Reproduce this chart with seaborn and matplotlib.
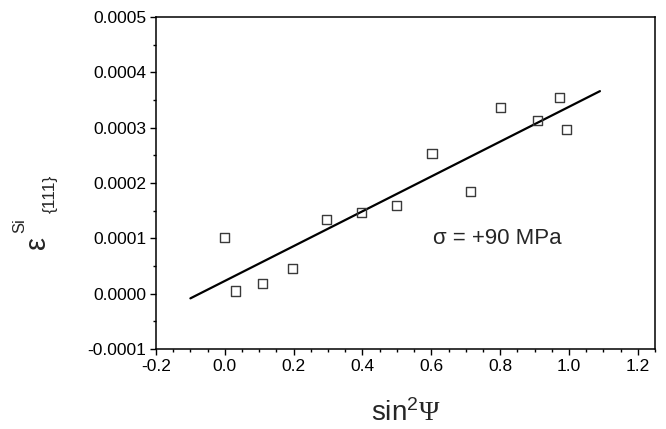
import numpy as np
import seaborn as sns
import matplotlib.pyplot as plt
from matplotlib.ticker import MultipleLocator, FormatStrFormatter

# datos
sin2psi = [0.0, 0.03, 0.109, 0.197, 0.295, 0.397, 0.500, 0.602, 0.714, 0.801, 0.908, 0.972, 0.992]
strain = [0.000101, 0.0000047, 0.000019, 0.000046, 0.000134, 0.000147, 0.000159,
          0.000254, 0.000185, 0.000337, 0.000313, 0.000354, 0.000296]

# recta de ajuste (extremos)
fit_x = [-0.10, 1.09]
fit_y = [-0.0000085, 0.000366]

x_ticks = [-0.2, 0.0, 0.2, 0.4, 0.6, 0.8, 1.0, 1.2]
y_ticks = [-0.0001, 0.0, 0.0001, 0.0002, 0.0003, 0.0004, 0.0005]

sns.set_style('ticks')
plt.rcParams['font.family'] = ['Liberation Sans', 'DejaVu Sans']
plt.rcParams['mathtext.fontset'] = 'custom'
plt.rcParams['mathtext.rm'] = 'Liberation Sans'
plt.rcParams['mathtext.it'] = 'Liberation Sans'
plt.rcParams['mathtext.sf'] = 'Liberation Serif'

fig = plt.figure(figsize=(6.66, 4.29), dpi=100)
ax = fig.add_axes([0.2342, 0.1865, 0.7493, 0.7739])

sns.lineplot(x=fit_x, y=fit_y, color='black', linewidth=1.6, ax=ax)
sns.scatterplot(x=sin2psi, y=strain, marker='s', s=44, facecolor='none',
                edgecolor='#3a3a3a', linewidth=1.0, ax=ax, zorder=3)
ax.collections[-1].set_facecolor('none')

ax.set_xlim(-0.2, 1.25)
ax.set_ylim(-0.0001, 0.0005)
ax.set_xticks(x_ticks)
ax.set_yticks(y_ticks)
ax.xaxis.set_minor_locator(MultipleLocator(0.05))
ax.yaxis.set_minor_locator(MultipleLocator(0.00005))
ax.xaxis.set_major_formatter(FormatStrFormatter('%.1f'))
ax.yaxis.set_major_formatter(FormatStrFormatter('%.4f'))

ax.tick_params(which='major', direction='out', length=4, width=1.0, labelsize=12.5,
               color='black', labelcolor='black')
ax.tick_params(which='minor', direction='out', length=2.5, width=1.0, color='black')
ax.tick_params(axis='x', pad=3)
ax.tick_params(axis='y', pad=3)
for s in ax.spines.values():
    s.set_visible(True)
    s.set_linewidth(1.1)
    s.set_color('black')

ax.text(0.605, 0.000089, '\u03c3 = +90 MPa', fontsize=16, ha='left', va='baseline')

ax.set_xlabel(r'sin$^{2}\mathsf{\Psi}$', fontsize=20)
ax.xaxis.set_label_coords(0.5, -0.15)
ax.set_ylabel('')

# etiqueta del eje y: epsilon, superindice Si y subindice {111}
W, H = 666.0, 429.0
fig.text(45 / W, 1 - 242.5 / H, '\u03b5', fontsize=21, rotation=90,
         rotation_mode='anchor', ha='center', va='baseline')
fig.text(24.5 / W, 1 - 226 / H, 'Si', fontsize=12, rotation=90,
         rotation_mode='anchor', ha='center', va='baseline')
fig.text(54.5 / W, 1 - 194 / H, '{111}', fontsize=12.5, rotation=90,
         rotation_mode='anchor', ha='center', va='baseline')

fig.savefig('out.png', dpi=100)
